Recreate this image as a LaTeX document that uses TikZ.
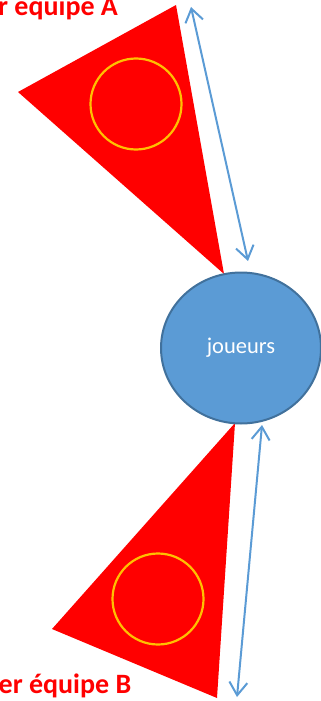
\documentclass[tikz,border=0pt]{standalone}
\usepackage{fontspec}
\setmainfont{Carlito}
\usetikzlibrary{arrows.meta,shapes.geometric}
\definecolor{tri}{RGB}{255,0,0}
\definecolor{ring}{RGB}{255,192,0}
\definecolor{ellfill}{RGB}{91,155,213}
\definecolor{ellline}{RGB}{65,113,156}
\definecolor{arr}{RGB}{91,155,213}
\tikzset{
  team/.style={fill=tri,draw=none},
  ringst/.style={draw=ring,line width=2.2pt},
  barb/.style={Straight Barb[length=13pt,width=18pt,line width=2pt]},
  link/.style={draw=arr,line width=2pt,{Straight Barb[length=13pt,width=18pt,line width=2pt]}-{Straight Barb[length=13pt,width=18pt,line width=2pt]}},
  lbl/.style={text=tri,font=\bfseries\fontsize{28}{32}\selectfont,inner sep=0pt,anchor=base west}
}
\begin{document}
\begin{tikzpicture}[x=1pt,y=-1pt]
\useasboundingbox (0,0) rectangle (321,701);
\clip (0,0) rectangle (321,701);
% team A
\fill[team] (176,5) -- (18,92) -- (224,274) -- cycle;
\node[ringst,circle,minimum size=91pt,inner sep=0pt] (ca) at (136,104) {};
% team B
\fill[team] (235,423) -- (52,629) -- (217,698) -- cycle;
\node[ringst,circle,minimum size=91pt,inner sep=0pt] (cb) at (158,599) {};
% players
\node[ellipse,fill=ellfill,draw=ellline,line width=2pt,minimum width=160pt,minimum height=151pt,inner sep=0pt,text=white,font=\fontsize{22.5}{26}\selectfont] (j) at (241,348) {joueurs};
% arrows
\coordinate (a1) at (191,7);
\coordinate (a2) at (248,261);
\coordinate (b1) at (262,425);
\coordinate (b2) at (237,697);
\draw[link] (a1) -- (a2);
\draw[link] (b1) -- (b2);
% labels
\node[lbl] (la) at (-2,15.5) {r equipe A};
\node[lbl] (lb) at (-1.5,693) {er équipe B};
\end{tikzpicture}
\end{document}
